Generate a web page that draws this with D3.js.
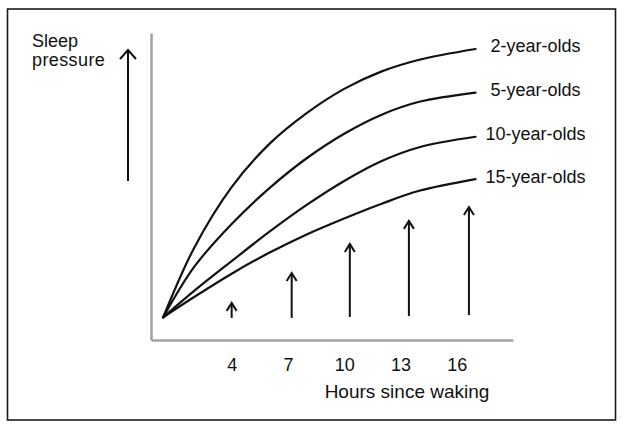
<!DOCTYPE html>
<html>
<head>
<meta charset="utf-8">
<script src="https://cdnjs.cloudflare.com/ajax/libs/d3/7.8.5/d3.min.js"></script>
<style>
    body { margin: 0; background: #fff; }
    text { font-family: "Liberation Sans", Arial, sans-serif; fill: #111; }
</style>
</head>
<body>
<div id="chart"></div>
<script>

// Data (sleep pressure in arbitrary units 0-100)
var hours = [0.35, 2, 4, 6, 8, 10, 12, 14, 17];
var ageGroups = ["2-year-olds", "5-year-olds", "10-year-olds", "15-year-olds"];
var pressure2yr = [7.4, 30.0, 49.8, 63.8, 73.9, 81.8, 87.5, 91.3, 94.8];
var pressure5yr = [7.4, 23.8, 37.8, 49.4, 59.2, 67.2, 73.4, 77.6, 80.6];
var pressure10yr = [7.4, 16.0, 25.7, 35.2, 44.0, 51.8, 58.3, 62.8, 66.2];
var pressure15yr = [7.4, 14.0, 21.6, 28.4, 34.4, 39.6, 44.4, 48.6, 52.4];

var tickHours = [4, 7, 10, 13, 16];

// the little upward arrows under the curves
var arrowHours = [4.0, 7.2, 10.3, 13.45, 16.65];
var arrowBase = [7.2, 7.2, 7.5, 7.8, 8.1];
var arrowTop = [12.1, 21.8, 31.3, 38.8, 43.3];

var svgWidth = 624;
var svgHeight = 429;

var margin = {
    top: 33,
    right: 111,
    bottom: 89,
    left: 151
};

var width = svgWidth - margin.left - margin.right;
var height = svgHeight - margin.top - margin.bottom;

var svg = d3.select("#chart")
    .append("svg")
    .attr("width", svgWidth)
    .attr("height", svgHeight);

// outer frame
svg.append("rect")
    .attr("x", 7.5)
    .attr("y", 9)
    .attr("width", 608)
    .attr("height", 411)
    .attr("fill", "none")
    .attr("stroke", "#1a1a1a")
    .attr("stroke-width", 1.6);

var chartGroup = svg.append("g")
    .attr("transform", `translate(${margin.left}, ${margin.top})`);

var xScale = d3.scaleLinear()
    .domain([-0.3, 19])
    .range([0, width]);

var yScale = d3.scaleLinear()
    .domain([0, 100])
    .range([height, 0]);

// axes: gray domain lines, no tick marks
var bottomAxis = d3.axisBottom(xScale)
    .tickValues(tickHours)
    .tickSize(0)
    .tickSizeOuter(0)
    .tickPadding(18);

var leftAxis = d3.axisLeft(yScale)
    .tickValues([])
    .tickSizeOuter(0);

var xAxisG = chartGroup.append("g")
    .attr("transform", `translate(0, ${height})`)
    .call(bottomAxis);

var yAxisG = chartGroup.append("g")
    .call(leftAxis);

[xAxisG, yAxisG].forEach(function (g) {
    g.select(".domain")
        .attr("stroke", "#a3a3a3")
        .attr("stroke-width", 2.6);
});

xAxisG.selectAll("text")
    .style("font-family", "'Liberation Sans', Arial, sans-serif")
    .style("font-size", "18px")
    .attr("fill", "#111");

// curves
var series = [pressure2yr, pressure5yr, pressure10yr, pressure15yr];

var line = d3.line()
    .x(d => xScale(d[0]))
    .y(d => yScale(d[1]))
    .curve(d3.curveCatmullRom.alpha(0.5));

series.forEach(function (vals, i) {
    var pts = hours.map((h, j) => [h, vals[j]]);
    chartGroup.append("path")
        .datum(pts)
        .attr("d", line)
        .attr("fill", "none")
        .attr("stroke", "#111")
        .attr("stroke-width", 2.2)
        .attr("stroke-linecap", "round");

    // label sits just right of where the curve ends
    chartGroup.append("text")
        .attr("x", xScale(hours[hours.length - 1]) + 60)
        .attr("y", yScale(vals[vals.length - 1]) - 3)
        .attr("dy", "0.36em")
        .attr("text-anchor", "middle")
        .style("font-size", "18px")
        .text(ageGroups[i]);
});

// arrows
function drawArrow(g, x, yBottom, yTip, halfW, headLen) {
    g.append("line")
        .attr("x1", x).attr("x2", x)
        .attr("y1", yBottom).attr("y2", yTip + 1)
        .attr("stroke", "#111")
        .attr("stroke-width", 2);
    g.append("path")
        .attr("d", `M${x - halfW},${yTip + headLen} L${x},${yTip} L${x + halfW},${yTip + headLen}`)
        .attr("fill", "none")
        .attr("stroke", "#111")
        .attr("stroke-width", 2);
}

arrowHours.forEach(function (h, i) {
    drawArrow(chartGroup, xScale(h), yScale(arrowBase[i]), yScale(arrowTop[i]), 5, 8);
});

// big "sleep pressure" arrow on the left
drawArrow(svg, 128, 181, 50, 8, 9);

svg.append("text")
    .attr("x", 32)
    .attr("y", 47)
    .style("font-size", "18px")
    .text("Sleep");

svg.append("text")
    .attr("x", 32)
    .attr("y", 66)
    .style("font-size", "18px")
    .style("letter-spacing", "0.4px")
    .text("pressure");

// x axis title
chartGroup.append("text")
    .attr("x", xScale(13.35))
    .attr("y", height + 58)
    .attr("text-anchor", "middle")
    .style("font-size", "19px")
    .text("Hours since waking");

</script>
</body>
</html>
